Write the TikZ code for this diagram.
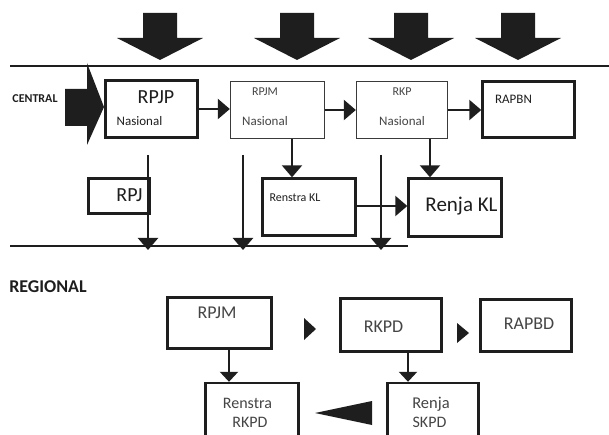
\documentclass[tikz,border=0pt]{standalone}
\usepackage{fontspec}
\setmainfont{Carlito}
\usetikzlibrary{arrows.meta}
\definecolor{ink}{HTML}{1E1E1E}
\definecolor{soft}{HTML}{3A3A3A}
\definecolor{grey}{HTML}{454545}
\tikzset{
  box/.style={draw=ink, line width=2.4pt, inner sep=0pt, fill=white},
  thinbox/.style={draw=soft, line width=1.3pt, inner sep=0pt, fill=white},
  conn/.style={draw=ink, line width=2.2pt, -{Triangle[length=12pt,width=20pt]}},
  connsmall/.style={draw=ink, line width=2.2pt, -{Triangle[length=10pt,width=18pt]}},
  lbl/.style={anchor=base, inner sep=0pt, text=ink},
  glbl/.style={anchor=base, inner sep=0pt, text=grey},
  rule/.style={draw=ink, line width=2.2pt},
  thinrule/.style={draw=ink, line width=1.2pt},
}
\newcommand{\fs}[1]{\fontsize{#1}{#1}\selectfont}
\begin{document}
\begin{tikzpicture}[x=1pt,y=-1pt]
\useasboundingbox (0,0) rectangle (609,435);
\clip (0,0) rectangle (609,435);

% top block arrows
\foreach \cx in {160,297,411,518} {
  \fill[ink] (\cx-17,13) -- (\cx+17,13) -- (\cx+17,38) -- (\cx+43,38) -- (\cx,60) -- (\cx-43,38) -- (\cx-17,38) -- cycle;
}
% top rule
\coordinate (r1a) at (10,66);
\coordinate (r1b) at (609,66);
\draw[rule] (r1a) -- (r1b);

% left block arrow
\fill[ink] (65,89) -- (87,89) -- (87,63) -- (104,107) -- (87,145) -- (87,126) -- (65,126) -- cycle;
\node[lbl, font=\bfseries\fs{12}] (central) at (35,103) {CENTRAL};

% central boxes
\node[box, minimum width=92, minimum height=57] (rpjp) at (151.5,109) {};
\node[thinbox, minimum width=94, minimum height=57] (rpjm) at (277.5,110) {};
\node[thinbox, minimum width=91, minimum height=57] (rkp) at (402,110) {};
\node[box, minimum width=92, minimum height=56] (rapbn) at (528.5,109.5) {};
\node[box, minimum width=61, minimum height=35] (rpj) at (119,196) {};
\node[box, minimum width=93, minimum height=57] (renstrakl) at (309,207) {};
\node[box, minimum width=93, minimum height=58] (renjakl) at (455,207.5) {};

\node[lbl, font=\fs{20}] (t-rpjp) at (156,104) {RPJP};
\node[lbl, font=\fs{13}] (t-nas1) at (139.5,126) {Nasional};
\node[glbl, font=\fs{12}] (t-rpjm) at (265,96) {RPJM};
\node[glbl, font=\fs{13}] (t-nas2) at (265,126) {Nasional};
\node[glbl, font=\fs{12}] (t-rkp) at (402,96) {RKP};
\node[glbl, font=\fs{13}] (t-nas3) at (402,126) {Nasional};
\node[lbl, font=\fs{13}] (t-rapbn) at (513.5,103.5) {RAPBN};
\node[lbl, font=\fs{20}] (t-rpj) at (129.5,201.5) {RPJ};
\node[lbl, font=\fs{12}] (t-renstrakl) at (295,201.5) {Renstra KL};
\node[lbl, font=\fs{21}] (t-renjakl) at (461.5,212) {Renja KL};

% central connectors
\draw[conn] (rpjp.east) -- (rpjp.east -| rpjm.west);
\draw[conn] (rpjm.east) -- (rpjm.east -| rkp.west);
\draw[conn] (rkp.east) -- (rkp.east -| rapbn.west);
\draw[conn] ([xshift=14.5pt]rpjm.south) -- ([xshift=14.5pt]rpjm.south |- renstrakl.north);
\draw[conn] ([xshift=28pt]rkp.south) -- ([xshift=28pt]rkp.south |- renjakl.north);
\draw[conn] ([yshift=1pt]renstrakl.east) -- ([yshift=1pt]renstrakl.east -| renjakl.west);

% bottom rule of central band
\coordinate (r2a) at (10,246);
\coordinate (r2b) at (408,246);
\draw[thinrule] (r2a) -- (r2b);

% vertical down arrows
\coordinate (v1s) at (148,155); \coordinate (v1e) at (148,250);
\coordinate (v2s) at (243,155); \coordinate (v2e) at (243,250);
\coordinate (v3s) at (381,155); \coordinate (v3e) at (381,250);
\draw[conn] (v1s) -- (v1e);
\draw[conn] (v2s) -- (v2e);
\draw[conn] (v3s) -- (v3e);

% regional
\node[lbl, font=\bfseries\fs{18}] (regional) at (48,292.5) {REGIONAL};

\node[box, minimum width=104, minimum height=51] (rpjmr) at (219.5,323) {};
\node[box, minimum width=101, minimum height=53] (rkpd) at (391,325) {};
\node[box, minimum width=91, minimum height=52] (rapbd) at (526,325.5) {};
\node[box, minimum width=93, minimum height=77] (renstrarkpd) at (252,421.5) {};
\node[box, minimum width=91, minimum height=77] (renjaskpd) at (433,421.5) {};

\node[glbl, font=\fs{18}] (t-rpjmr) at (217,318.5) {RPJM};
\node[glbl, font=\fs{18}] (t-rkpd) at (383.5,332) {RKPD};
\node[glbl, font=\fs{18}] (t-rapbd) at (529,329.5) {RAPBD};
\node[glbl, font=\fs{16}] (t-renstra) at (247.5,408) {Renstra};
\node[glbl, font=\fs{16}] (t-rkpd2) at (250,427.5) {RKPD};
\node[glbl, font=\fs{16.5}] (t-renja) at (431,408) {Renja};
\node[glbl, font=\fs{16}] (t-skpd) at (429.5,427) {SKPD};

\draw[connsmall] ([xshift=9.5pt]rpjmr.south) -- ([xshift=9.5pt]rpjmr.south |- renstrarkpd.north);
\draw[connsmall] ([xshift=17pt]rkpd.south) -- ([xshift=17pt]rkpd.south |- renjaskpd.north);

% free arrowheads
\fill[ink] (304,318) -- (316,329) -- (304,340) -- cycle;
\fill[ink] (457,323) -- (469,333) -- (457,343) -- cycle;
\fill[ink] (372,401) -- (315,413) -- (372,425) -- cycle;
\end{tikzpicture}
\end{document}
